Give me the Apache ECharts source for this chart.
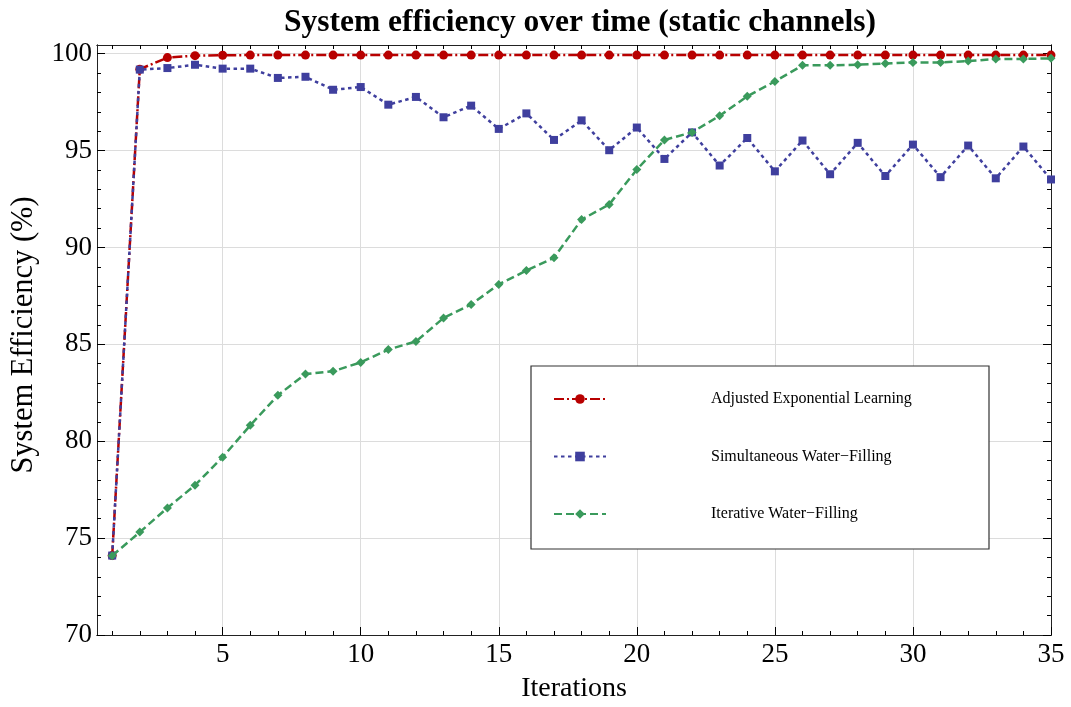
<!DOCTYPE html>
<html>
<head>
<meta charset="utf-8">
<script src="https://cdn.jsdelivr.net/npm/echarts@6/dist/echarts.min.js"></script>
<style>html,body{margin:0;padding:0;background:#fff;}#c{width:1071px;height:707px;}</style>
</head>
<body>
<div id="c"></div>
<script>
var iterations = [1,2,3,4,5,6,7,8,9,10,11,12,13,14,15,16,17,18,19,20,21,22,23,24,25,26,27,28,29,30,31,32,33,34,35];
var aelValues = [74.1,99.2,99.8,99.9,99.92,99.93,99.93,99.93,99.93,99.93,99.93,99.93,99.93,99.93,99.93,99.93,99.93,99.93,99.93,99.93,99.93,99.93,99.93,99.93,99.93,99.93,99.93,99.93,99.93,99.93,99.93,99.93,99.93,99.93,99.93];
var swfValues = [74.1,99.18,99.26,99.43,99.23,99.23,98.75,98.81,98.14,98.28,97.37,97.77,96.72,97.32,96.12,96.92,95.55,96.56,95.02,96.19,94.57,95.94,94.23,95.65,93.93,95.52,93.78,95.4,93.69,95.31,93.63,95.26,93.57,95.21,93.51];
var iwfValues = [74.09,75.31,76.56,77.73,79.18,80.82,82.37,83.47,83.61,84.07,84.73,85.15,86.36,87.06,88.09,88.81,89.47,91.44,92.22,94.02,95.55,95.94,96.8,97.8,98.57,99.4,99.4,99.43,99.5,99.55,99.55,99.62,99.73,99.73,99.76];
var seriesNames = ['Adjusted Exponential Learning','Simultaneous Water\u2212Filling','Iterative Water\u2212Filling'];
var xMajorTicks = [5,10,15,20,25,30,35];
var xMinorTicks = [1,2,3,4,5,6,7,8,9,10,11,12,13,14,15,16,17,18,19,20,21,22,23,24,25,26,27,28,29,30,31,32,33,34,35];
var yMajorTicks = [70,75,80,85,90,95,100];
var yMinorTicks = [70,71,72,73,74,75,76,77,78,79,80,81,82,83,84,85,86,87,88,89,90,91,92,93,94,95,96,97,98,99,100];

var FONT = "'Liberation Serif','Times New Roman',serif";
function pairs(vals){ return iterations.map(function(x,i){ return [x, vals[i]]; }); }

var X_MIN = 0.45, X_MAX = 35, Y_MIN = 70, Y_MAX = 100.45;
var frameColor = '#222';

function xAxisDef(pos, major, withLabels){
  return {
    type:'value', position:pos, min:X_MIN, max:X_MAX,
    axisLine:{show:true, lineStyle:{color:frameColor, width:1}},
    axisTick:{show:true, inside:true, length: major?8:4, customValues: major?xMajorTicks:xMinorTicks, lineStyle:{color:'#000', width:1}},
    axisLabel:{show:withLabels, customValues:xMajorTicks, fontFamily:FONT, fontSize:27, color:'#000', margin:6},
    splitLine:{show: withLabels, lineStyle:{color:'#dcdcdc', width:1}},
    name: withLabels ? 'Iterations' : '',
    nameLocation:'middle', nameGap:40,
    nameTextStyle:{fontFamily:FONT, fontSize:28, color:'#000'}
  };
}
function yAxisDef(pos, major, withLabels){
  return {
    type:'value', position:pos, min:Y_MIN, max:Y_MAX,
    axisLine:{show:true, lineStyle:{color:frameColor, width:1}},
    axisTick:{show:true, inside:true, length: major?8:4, customValues: major?yMajorTicks:yMinorTicks, lineStyle:{color:'#000', width:1}},
    axisLabel:{show:withLabels, customValues:yMajorTicks, fontFamily:FONT, fontSize:27, color:'#000', margin:5},
    splitLine:{show: withLabels, lineStyle:{color:'#dcdcdc', width:1}},
    name: withLabels ? 'System Efficiency (%)' : '',
    nameLocation:'middle', nameGap:58,
    nameTextStyle:{fontFamily:FONT, fontSize:30.5, color:'#000', padding:[0,0,0,10]}
  };
}

var chart = echarts.init(document.getElementById('c'), null, {renderer:'canvas'});
chart.setOption({
  backgroundColor:'#fff',
  animation:false,
  title:{
    text:'System efficiency over time (static channels)',
    left:575, top:2, textAlign:'center',
    textStyle:{fontFamily:FONT, fontWeight:'bold', fontSize:31.5, color:'#000'}
  },
  grid:{left:97, right:20, top:45, bottom:72, outerBoundsMode:'none', containLabel:false},
  xAxis:[ xAxisDef('bottom', true, true), xAxisDef('bottom', false, false), xAxisDef('top', true, false), xAxisDef('top', false, false) ],
  yAxis:[ yAxisDef('left', true, true), yAxisDef('left', false, false), yAxisDef('right', true, false), yAxisDef('right', false, false) ],
  graphic:[{
    type:'rect', z:3, silent:true,
    shape:{x:531, y:366, width:458, height:183},
    style:{fill:'#fff', stroke:'#333', lineWidth:1.2}
  }],
  legend:{
    show:true, orient:'vertical', left:553, top:389, padding:0,
    itemWidth:52, itemHeight:12, itemGap:37.5,
    data: seriesNames,
    textStyle:{fontFamily:FONT, fontSize:16, color:'#000', lineHeight:20, padding:[0,0,0,100]}
  },
  series:[
    {
      name:seriesNames[0], type:'line', data:pairs(aelValues), xAxisIndex:0, yAxisIndex:0,
      symbol:'circle', symbolSize:9,
      lineStyle:{color:'#b80000', width:2.5, type:[10,3,2,3]},
      itemStyle:{color:'#b80000'}, z:2
    },
    {
      name:seriesNames[1], type:'line', data:pairs(swfValues), xAxisIndex:0, yAxisIndex:0,
      symbol:'rect', symbolSize:8,
      lineStyle:{color:'#3f3f9e', width:2.5, type:[3.5,3.5]},
      itemStyle:{color:'#3f3f9e'}, z:3
    },
    {
      name:seriesNames[2], type:'line', data:pairs(iwfValues), xAxisIndex:0, yAxisIndex:0,
      symbol:'diamond', symbolSize:9,
      lineStyle:{color:'#3a9a5c', width:2.5, type:[8,4]},
      itemStyle:{color:'#3a9a5c'}, z:4
    }
  ]
});
</script>
</body>
</html>
